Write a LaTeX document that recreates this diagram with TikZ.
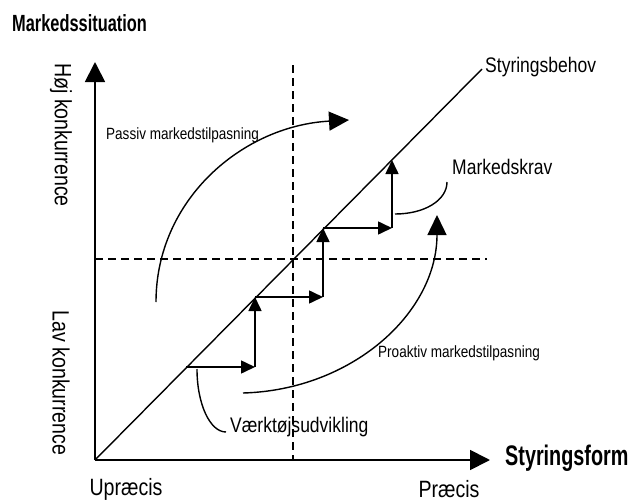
\documentclass[tikz,border=0pt]{standalone}
\usepackage{fontspec}
\setmainfont[FakeStretch=0.83]{Liberation Sans}
\newfontfamily\boldnarrow[FakeStretch=0.7]{Liberation Sans}
\usetikzlibrary{arrows.meta}
\begin{document}
\begin{tikzpicture}[x=1pt,y=-1pt,
  line/.style={line width=1.4pt, black},
  axis/.style={line width=1.8pt, black, -{Triangle[length=20pt,width=20pt]}},
  bigarr/.style={line width=1.4pt, -{Triangle[length=20pt,width=19pt]}},
  stair/.style={line width=1.6pt, -{Triangle[length=14pt,width=13pt]}},
  guide/.style={line width=1.2pt, dash pattern=on 8pt off 5pt},
  lbl/.style={inner sep=0pt, font=\fontsize{21.1}{25}\selectfont},
  small/.style={inner sep=0pt, font=\fontsize{16.3}{19}\selectfont},
  axlbl/.style={inner sep=0pt, font=\fontsize{23.6}{28}\selectfont},
  bold/.style={inner sep=0pt, font=\boldnarrow\bfseries\fontsize{#1}{30}\selectfont}
]
\useasboundingbox (0,0) rectangle (630,501);

% key points
\coordinate (O) at (95,460);
\coordinate (Ytip) at (95,62);
\coordinate (Xtip) at (490,460);
\coordinate (D) at (482,69);
\coordinate (vt) at (293,65);
\coordinate (vb) at (293,460);
\coordinate (hl) at (95,259);
\coordinate (hr) at (487,259);

% dashed quadrant lines
\draw[guide] (vt) -- (vb);
\draw[guide] (hl) -- (hr);

% axes
\draw[axis] (O) -- (Ytip);
\draw[axis] (O) -- (Xtip);

% diagonal
\draw[line] (O) -- (D);

% staircase
\coordinate (s0) at (186,367);
\coordinate (s1) at (255,367);
\coordinate (s2) at (255,297);
\coordinate (s3) at (323,297);
\coordinate (s4) at (323,228);
\coordinate (s5) at (392,228);
\coordinate (s6) at (392,160);
\draw[stair] (s0) -- (s1);
\draw[stair] (s1) -- (s2);
\draw[stair] (s2) -- (s3);
\draw[stair] (s3) -- (s4);
\draw[stair] (s4) -- (s5);
\draw[stair] (s5) -- (s6);

% labels
\node[bold=23.4, anchor=west] (title) at (12,23) {Markedssituation};
\node[bold=28.3, anchor=west] (xname) at (505,458) {Styringsform};
\node[axlbl] (upr) at (126,489) {Upræcis};
\node[axlbl] (pr) at (449,489) {Præcis};
\node[axlbl, rotate=-90] (hoj) at (61,135) {Høj konkurrence};
\node[axlbl, rotate=-90] (lav) at (61,383) {Lav konkurrence};
\node[lbl, anchor=west] (beh) at (485,67) {Styringsbehov};
\node[lbl, anchor=west] (krav) at (452,167) {Markedskrav};
\node[lbl, anchor=west] (vaerk) at (230,427) {Værktøjsudvikling};
\node[small, anchor=west] (pas) at (106,135) {Passiv markedstilpasning};
\node[small, anchor=west] (pro) at (378,353) {Proaktiv markedstilpasning};

% curved arrows
\coordinate (pa0) at (156,302);
\coordinate (pa1) at (349,120);
\draw[bigarr] (pa0) .. controls (156,200) and (242,126) .. (pa1);
\coordinate (pr0) at (243,393);
\coordinate (pr1) at (437,215);
\draw[bigarr] (pr0) .. controls (352,390) and (437,313) .. (pr1);

% callout curves
\coordinate (k0) at (395,214);
\coordinate (k1) at (447,182);
\draw[line] (k0) .. controls (425,214) and (447,200) .. (k1);
\coordinate (v0) at (197,369);
\coordinate (v1) at (226,432);
\draw[line] (v0) .. controls (197,404) and (210,432) .. (v1);
\end{tikzpicture}
\end{document}
